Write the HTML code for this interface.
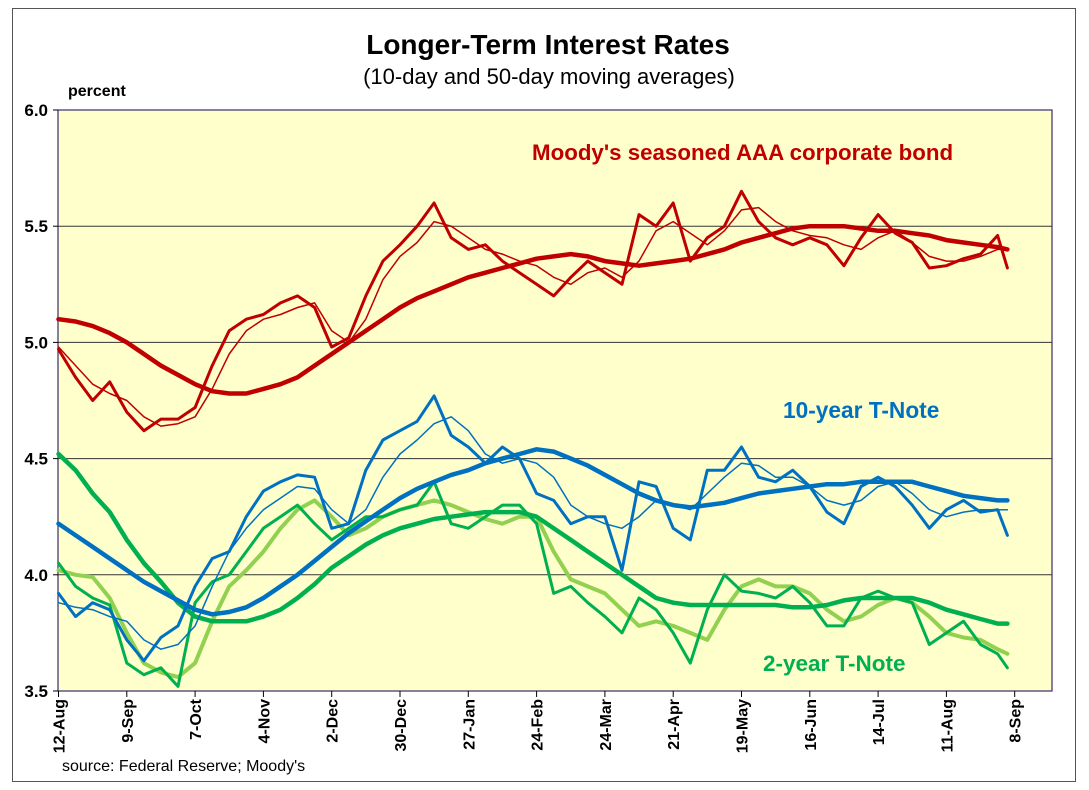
<!DOCTYPE html>
<html><head><meta charset="utf-8"><style>
body{margin:0;background:#fff;}
svg text{font-family:"Liberation Sans",Arial,sans-serif;}
</style></head><body>
<svg id="chart" width="1089" height="785" viewBox="0 0 1089 785" xmlns="http://www.w3.org/2000/svg">
<rect x="12.5" y="8.5" width="1063" height="773" fill="#fff" stroke="#555" stroke-width="1"/>
<rect x="58" y="110" width="994" height="581" fill="#ffffcc" stroke="#3b2a6b" stroke-width="1.2"/>
<text x="548" y="54" text-anchor="middle" font-size="28" font-weight="bold">Longer-Term Interest Rates</text>
<text x="549" y="84" text-anchor="middle" font-size="22">(10-day and 50-day moving averages)</text>
<text x="68" y="96" font-size="16" font-weight="bold">percent</text>
<g id="grid"></g><g id="axes"></g><g id="series"></g>
<text x="532" y="160" font-size="22.3" font-weight="bold" fill="#c00000">Moody's seasoned AAA corporate bond</text>
<text x="783" y="418" font-size="22.7" font-weight="bold" fill="#0070c0">10-year T-Note</text>
<text x="763" y="671" font-size="22.5" font-weight="bold" fill="#00b050">2-year T-Note</text>
<text x="62" y="771" font-size="16">source: Federal Reserve; Moody's</text>
</svg>
<script>
const days=[0,7,14,21,28,35,42,49,56,63,70,77,84,91,98,105,112,119,126,133,140,147,154,161,168,175,182,189,196,203,210,217,224,231,238,245,252,259,266,273,280,287,294,301,308,315,322,329,336,343,350,357,364,371,378,385,389];
const tickLabels=["12-Aug","9-Sep","7-Oct","4-Nov","2-Dec","30-Dec","27-Jan","24-Feb","24-Mar","21-Apr","19-May","16-Jun","14-Jul","11-Aug","8-Sep"];
const yTicks=[3.5,4.0,4.5,5.0,5.5,6.0];
const aaaDaily=[4.97,4.85,4.75,4.83,4.70,4.62,4.67,4.67,4.72,4.90,5.05,5.10,5.12,5.17,5.20,5.15,4.98,5.02,5.20,5.35,5.42,5.50,5.60,5.45,5.40,5.42,5.35,5.30,5.25,5.20,5.28,5.35,5.30,5.25,5.55,5.50,5.60,5.35,5.45,5.50,5.65,5.52,5.45,5.42,5.45,5.42,5.33,5.45,5.55,5.47,5.43,5.32,5.33,5.36,5.38,5.46,5.32];
const aaa10=[4.98,4.90,4.82,4.78,4.75,4.68,4.64,4.65,4.68,4.80,4.95,5.05,5.10,5.12,5.15,5.17,5.05,5.00,5.10,5.27,5.37,5.43,5.52,5.50,5.45,5.40,5.38,5.35,5.33,5.28,5.25,5.30,5.32,5.28,5.35,5.48,5.52,5.47,5.42,5.48,5.57,5.58,5.52,5.48,5.46,5.45,5.42,5.40,5.45,5.48,5.43,5.37,5.35,5.35,5.37,5.40,5.40];
const aaa50=[5.10,5.09,5.07,5.04,5.00,4.95,4.90,4.86,4.82,4.79,4.78,4.78,4.80,4.82,4.85,4.90,4.95,5.00,5.05,5.10,5.15,5.19,5.22,5.25,5.28,5.30,5.32,5.34,5.36,5.37,5.38,5.37,5.35,5.34,5.33,5.34,5.35,5.36,5.38,5.40,5.43,5.45,5.47,5.49,5.50,5.50,5.50,5.49,5.48,5.48,5.47,5.46,5.44,5.43,5.42,5.41,5.40];
const t10Daily=[3.92,3.82,3.88,3.85,3.72,3.63,3.73,3.78,3.95,4.07,4.10,4.25,4.36,4.40,4.43,4.42,4.20,4.22,4.45,4.58,4.62,4.66,4.77,4.60,4.55,4.48,4.55,4.50,4.35,4.32,4.22,4.25,4.25,4.02,4.40,4.38,4.20,4.15,4.45,4.45,4.55,4.42,4.40,4.45,4.38,4.27,4.22,4.38,4.42,4.38,4.30,4.20,4.28,4.32,4.27,4.28,4.17];
const t10Ma10=[3.88,3.86,3.85,3.82,3.80,3.72,3.68,3.70,3.78,3.95,4.10,4.20,4.28,4.33,4.38,4.37,4.28,4.22,4.28,4.42,4.52,4.58,4.65,4.68,4.62,4.52,4.48,4.50,4.48,4.42,4.30,4.25,4.22,4.20,4.25,4.32,4.30,4.28,4.35,4.42,4.48,4.47,4.42,4.42,4.38,4.32,4.30,4.32,4.38,4.40,4.35,4.28,4.25,4.27,4.28,4.28,4.28];
const t10Ma50=[4.22,4.17,4.12,4.07,4.02,3.97,3.93,3.89,3.85,3.83,3.84,3.86,3.90,3.95,4.00,4.06,4.12,4.18,4.23,4.28,4.33,4.37,4.40,4.43,4.45,4.48,4.50,4.52,4.54,4.53,4.50,4.47,4.43,4.39,4.35,4.32,4.30,4.29,4.30,4.31,4.33,4.35,4.36,4.37,4.38,4.39,4.39,4.40,4.40,4.40,4.40,4.38,4.36,4.34,4.33,4.32,4.32];
const t2Daily=[4.05,3.95,3.90,3.87,3.62,3.57,3.60,3.52,3.88,3.97,4.00,4.10,4.20,4.25,4.30,4.22,4.15,4.20,4.25,4.25,4.28,4.30,4.40,4.22,4.20,4.25,4.30,4.30,4.22,3.92,3.95,3.88,3.82,3.75,3.90,3.85,3.75,3.62,3.85,4.00,3.93,3.92,3.90,3.95,3.88,3.78,3.78,3.90,3.93,3.90,3.88,3.70,3.75,3.80,3.70,3.66,3.60];
const t2Ma10=[4.02,4.00,3.99,3.90,3.75,3.62,3.58,3.56,3.62,3.80,3.95,4.02,4.10,4.20,4.28,4.32,4.25,4.17,4.20,4.25,4.28,4.30,4.32,4.30,4.27,4.24,4.22,4.25,4.25,4.10,3.98,3.95,3.92,3.85,3.78,3.80,3.78,3.75,3.72,3.85,3.95,3.98,3.95,3.95,3.92,3.85,3.80,3.82,3.87,3.90,3.88,3.82,3.75,3.73,3.72,3.68,3.66];
const t2Ma50=[4.52,4.45,4.35,4.27,4.15,4.05,3.97,3.88,3.82,3.80,3.80,3.80,3.82,3.85,3.90,3.96,4.03,4.08,4.13,4.17,4.20,4.22,4.24,4.25,4.26,4.27,4.27,4.27,4.25,4.20,4.15,4.10,4.05,4.00,3.95,3.90,3.88,3.87,3.87,3.87,3.87,3.87,3.87,3.86,3.86,3.87,3.89,3.90,3.90,3.90,3.90,3.88,3.85,3.83,3.81,3.79,3.79];

const NS="http://www.w3.org/2000/svg";
const X0=58.5,PX_PER_DAY=68.3/28,Y0=691,YTOP=110;
function xs(d){return X0+d*PX_PER_DAY;}
function ys(v){return Y0-(v-3.5)/(6.0-3.5)*(Y0-YTOP);}
const grid=document.getElementById('grid'),axes=document.getElementById('axes'),ser=document.getElementById('series');
yTicks.forEach(v=>{
  if(v>3.5&&v<6.0){
    const l=document.createElementNS(NS,'line');
    
    
    l.setAttribute('x1',58);l.setAttribute('x2',1052);l.setAttribute('y1',ys(v));l.setAttribute('y2',ys(v));
    l.setAttribute('stroke','#333');l.setAttribute('stroke-width','1');
    grid.appendChild(l);
  }
  const tk=document.createElementNS(NS,'line');
  
  
  tk.setAttribute('x1',53);tk.setAttribute('x2',58);tk.setAttribute('y1',ys(v));tk.setAttribute('y2',ys(v));tk.setAttribute('stroke','#000');
  axes.appendChild(tk);
  const t=document.createElementNS(NS,'text');
  
  
  t.setAttribute('x',48);t.setAttribute('y',ys(v)+6);t.setAttribute('text-anchor','end');
  t.setAttribute('font-size','17');t.setAttribute('font-weight','bold');
  t.textContent=v.toFixed(1);
  axes.appendChild(t);
});
tickLabels.forEach((lab,i)=>{
  const x=xs(i*28);
  const tk=document.createElementNS(NS,'line');
  
  
  tk.setAttribute('x1',x);tk.setAttribute('x2',x);tk.setAttribute('y1',691);tk.setAttribute('y2',697);tk.setAttribute('stroke','#000');
  axes.appendChild(tk);
  const t=document.createElementNS(NS,'text');
  
  
  t.setAttribute('transform','translate('+(x+6)+',699) rotate(-90)');
  t.setAttribute('text-anchor','end');t.setAttribute('font-size','16');t.setAttribute('font-weight','bold');
  t.textContent=lab;
  axes.appendChild(t);
});
function line(vals,color,w,name){
  const p=document.createElementNS(NS,'polyline');
  
  
  p.setAttribute('points',vals.map((v,i)=>xs(days[i]).toFixed(1)+','+ys(v).toFixed(1)).join(' '));
  p.setAttribute('fill','none');p.setAttribute('stroke',color);p.setAttribute('stroke-width',w);
  p.setAttribute('stroke-linejoin','round');p.setAttribute('stroke-linecap','round');
  ser.appendChild(p);
}
line(t2Ma10,'#92d050',4,'two-year-10day-ma');
line(t2Ma50,'#00b050',4.5,'two-year-50day-ma');
line(t2Daily,'#00b050',3,'two-year-daily');
line(t10Ma50,'#0070c0',4.5,'ten-year-50day-ma');
line(t10Ma10,'#0070c0',1.5,'ten-year-10day-ma');
line(t10Daily,'#0070c0',3,'ten-year-daily');
line(aaa50,'#c00000',4.5,'aaa-50day-ma');
line(aaa10,'#c00000',1.5,'aaa-10day-ma');
line(aaaDaily,'#c00000',3,'aaa-daily');
</script>
</body></html>
